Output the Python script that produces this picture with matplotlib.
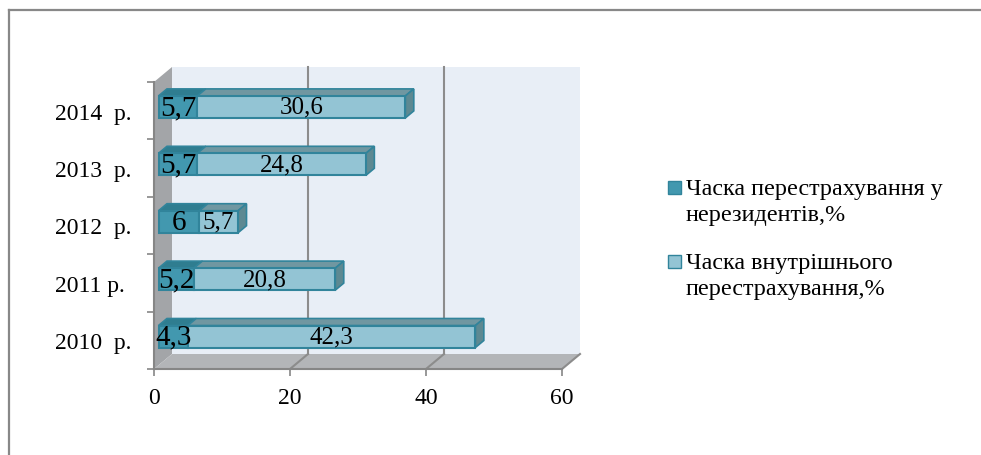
import numpy as np
import matplotlib
matplotlib.use("Agg")
import matplotlib.pyplot as plt
from matplotlib.patches import Polygon, Rectangle
from matplotlib.lines import Line2D

plt.rcParams['font.family'] = ['Liberation Serif', 'DejaVu Serif']

# дані
roky = ["2010  р.", "2011 р.", "2012  р.", "2013  р.", "2014  р."]
nerezydenty = [4.3, 5.2, 6.0, 5.7, 5.7]
vnutrishnie = [42.3, 20.8, 5.7, 24.8, 30.6]
pidpysy_ner = ["4,3", "5,2", "6", "5,7", "5,7"]
pidpysy_vn = ["42,3", "20,8", "5,7", "24,8", "30,6"]
legenda = [["Часка перестрахування у", "нерезидентів,%"],
           ["Часка внутрішнього", "перестрахування,%"]]
xticks = [0, 20, 40, 60]

W, H = 981, 456
fig = plt.figure(figsize=(W / 100, H / 100), dpi=100)

# положення осей у пікселях
x0, x1 = 154, 562
ytop, ybot = 83, 370
ax = fig.add_axes([x0 / W, 1 - ybot / H, (x1 - x0) / W, (ybot - ytop) / H])
ax.set_xlim(0, 60)
ax.set_ylim(0, 5)
ax.patch.set_alpha(0)

# глибина 3D у одиницях даних
px_x = 60 / (x1 - x0)
px_y = 5 / (ybot - ytop)
DX = 18 * px_x
DY = 15 * px_y

wall_c = '#E8EEF6'
side_c = '#A3A5A8'
floor_c = '#B3B5B8'
grid_c = '#8C8C8C'

ax.add_patch(Polygon([(DX, DY), (60 + DX, DY), (60 + DX, 5 + DY), (DX, 5 + DY)],
                     closed=True, fc=wall_c, ec='none', clip_on=False, zorder=0.5))
ax.add_patch(Polygon([(0, 0), (DX, DY), (DX, 5 + DY), (0, 5)],
                     closed=True, fc=side_c, ec='none', clip_on=False, zorder=0.6))
ax.add_patch(Polygon([(0, 0), (60, 0), (60 + DX, DY), (DX, DY)],
                     closed=True, fc=floor_c, ec='none', clip_on=False, zorder=0.6))
for gx in xticks[1:]:
    if gx < 60:
        ax.plot([gx + DX, gx + DX], [DY, 5 + DY], color=grid_c, lw=1.5,
                clip_on=False, zorder=0.7)
    ax.plot([gx, gx + DX], [0, DY], color=grid_c, lw=1.5, clip_on=False, zorder=0.7)

# стовпчики
f0, f1 = 0.25, 0.72
ox, oy = f0 * DX, f0 * DY
ddx, ddy = (f1 - f0) * DX, (f1 - f0) * DY
h = 22 * px_y
centers = np.arange(len(roky)) + 0.5

dark_c, dark_top = '#4298AF', '#2F7D90'
light_c, light_top = '#93C4D4', '#7097A1'
side_bar = '#5D8992'
edge_c = '#31849B'

for i, c in enumerate(centers):
    segs = [(0, nerezydenty[i], dark_c, dark_top),
            (nerezydenty[i], nerezydenty[i] + vnutrishnie[i], light_c, light_top)]
    yc = c + oy
    top = yc + h / 2
    bot = yc - h / 2
    for s, e, fc, tc in segs:
        ax.add_patch(Polygon([(s + ox, top), (e + ox, top), (e + ox + ddx, top + ddy),
                              (s + ox + ddx, top + ddy)], closed=True, fc=tc, ec=edge_c,
                             lw=1.2, clip_on=False, zorder=3))
    e = segs[-1][1]
    ax.add_patch(Polygon([(e + ox, bot), (e + ox, top), (e + ox + ddx, top + ddy),
                          (e + ox + ddx, bot + ddy)], closed=True, fc=side_bar, ec=edge_c,
                         lw=1.2, clip_on=False, zorder=3))

ax.barh(centers + oy, nerezydenty, left=ox, height=h, color=dark_c,
        edgecolor=edge_c, linewidth=1.5, zorder=4, clip_on=False)
ax.barh(centers + oy, vnutrishnie, left=np.array(nerezydenty) + ox, height=h,
        color=light_c, edgecolor=edge_c, linewidth=1.5, zorder=4, clip_on=False)

for i, c in enumerate(centers):
    n, v = nerezydenty[i], vnutrishnie[i]
    ax.text(n / 2 + ox, c + oy, pidpysy_ner[i], ha='center', va='center',
            fontsize=21, zorder=5)
    ax.text(n + v / 2 + ox, c + oy, pidpysy_vn[i], ha='center', va='center',
            fontsize=18, zorder=5)

# осі
for sp in ['top', 'right']:
    ax.spines[sp].set_visible(False)
for sp in ['left', 'bottom']:
    ax.spines[sp].set_color('#868686')
    ax.spines[sp].set_linewidth(1.5)
ax.set_xticks(xticks)
ax.set_xticklabels([str(t) for t in xticks])
ax.tick_params(axis='x', direction='out', length=5, width=1.2, color='#868686',
               labelsize=17, pad=8)
ax.set_yticks(range(6))
ax.set_yticklabels([])
ax.set_yticks(centers, roky, minor=True)
ax.tick_params(axis='y', which='major', direction='out', length=5, width=1.2,
               color='#868686')
ax.tick_params(axis='y', which='minor', length=0, labelsize=17, pad=71)
for t in ax.get_yticklabels(minor=True):
    t.set_horizontalalignment('left')

# легенда
leg_cols = [dark_c, light_c]
leg_y = [188, 262]
for k in range(2):
    sq = 13
    fig.add_artist(Rectangle((668 / W, 1 - (leg_y[k] + sq / 2) / H), sq / W, sq / H,
                             transform=fig.transFigure, fc=leg_cols[k], ec=edge_c, lw=1))
    for j, line in enumerate(legenda[k]):
        fig.text(686 / W, 1 - (leg_y[k] + 7 + 26 * j) / H, line, fontsize=17.4,
                 ha='left', va='baseline')

# рамка
fig.add_artist(Line2D([8.5 / W, 8.5 / W], [0, 1 - 10.5 / H], transform=fig.transFigure,
                      color='#888888', lw=1.6))
fig.add_artist(Line2D([8.5 / W, 1], [1 - 10.5 / H, 1 - 10.5 / H], transform=fig.transFigure,
                      color='#888888', lw=1.6))

fig.savefig("out.png", dpi=100)
